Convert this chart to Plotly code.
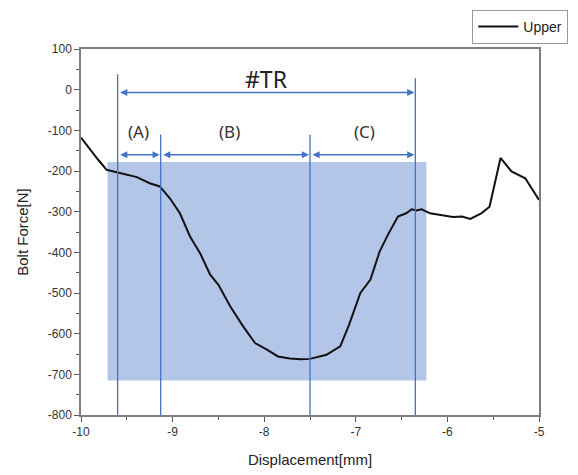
import plotly.graph_objects as go

# Bolt force measured against displacement (upper bolt)
displacement = [-10.0, -9.90, -9.81, -9.72, -9.60, -9.39, -9.25, -9.14, -9.03, -8.92,
                -8.81, -8.70, -8.59, -8.50, -8.37, -8.23, -8.10, -7.97, -7.85, -7.72,
                -7.60, -7.50, -7.32, -7.17, -7.08, -6.95, -6.84, -6.74, -6.65, -6.54,
                -6.45, -6.39, -6.34, -6.28, -6.19, -6.05, -5.94, -5.84, -5.75, -5.63,
                -5.54, -5.42, -5.30, -5.15, -5.00]
bolt_force = [-118, -148, -173, -197, -204, -215, -230, -238, -267, -304,
              -361, -402, -455, -480, -533, -582, -623, -639, -656, -661,
              -663, -662, -652, -631, -582, -500, -467, -398, -357, -312,
              -304, -294, -297, -294, -304, -308, -313, -312, -318, -304,
              -288, -168, -201, -218, -271]

# Axis tick values and their labels (plain hyphen for negatives)
x_ticks = [-10, -9, -8, -7, -6, -5]
x_tick_text = ["-10", "-9", "-8", "-7", "-6", "-5"]
y_ticks = [100, 0, -100, -200, -300, -400, -500, -600, -700, -800]
y_tick_text = ["100", "0", "-100", "-200", "-300", "-400", "-500", "-600", "-700", "-800"]

# Region boundaries (mm) and labels
bounds = [-9.60, -9.13, -7.50, -6.35]
region_labels = ["(A)", "(B)", "(C)"]
total_label = "#TR"
band_x = [-9.71, -6.23]
band_y = [-715, -178]

BLUE = "#4472C4"
FONT = "Liberation Sans, Arial, sans-serif"

fig = go.Figure()
fig.add_trace(go.Scatter(
    x=displacement, y=bolt_force, mode="lines", name="Upper",
    line=dict(color="#111111", width=2),
))

shapes = [dict(type="rect", xref="x", yref="y", layer="below",
               x0=band_x[0], x1=band_x[1], y0=band_y[0], y1=band_y[1],
               fillcolor="#B4C6E7", line=dict(width=0))]
line_tops = [38, -110, -110, 28]
for bx, top in zip(bounds, line_tops):
    shapes.append(dict(type="line", xref="x", yref="y", x0=bx, x1=bx,
                       y0=-800, y1=top, line=dict(color=BLUE, width=1.3)))

annotations = []

def double_arrow(x0, x1, y):
    annotations.append(dict(
        x=x1, y=y, ax=x0, ay=y, xref="x", yref="y", axref="x", ayref="y",
        text="", showarrow=True, arrowhead=2, startarrowhead=2,
        arrowside="end+start", arrowsize=1.1, startarrowsize=1.1,
        arrowwidth=1.3, arrowcolor=BLUE, standoff=1, startstandoff=1,
    ))

double_arrow(bounds[0], bounds[3], -7)
for i in range(3):
    double_arrow(bounds[i], bounds[i + 1], -160)

annotations.append(dict(x=-7.98, y=26, xref="x", yref="y", text=total_label,
                        showarrow=False, font=dict(family="Noto Sans", size=23, color="#222222")))
label_x = [-9.37, -8.38, -6.91]
for lx, txt in zip(label_x, region_labels):
    annotations.append(dict(x=lx, y=-103, xref="x", yref="y", text=txt,
                            showarrow=False, font=dict(family="Noto Sans", size=17, color="#333333")))

axis_common = dict(
    showline=True, linecolor="#7f7f7f", linewidth=1.5, mirror=True,
    ticks="outside", ticklen=5, tickwidth=1, tickcolor="#555555",
    showgrid=False, zeroline=False,
    tickfont=dict(family=FONT, size=12, color="#333333"),
)

fig.update_layout(
    width=578, height=475,
    margin=dict(l=81, r=39, t=49, b=60, autoexpand=False),
    paper_bgcolor="white", plot_bgcolor="white",
    shapes=shapes, annotations=annotations,
    showlegend=True,
    legend=dict(x=1.064, y=1.107, xanchor="right", yanchor="top",
                bordercolor="#999999", borderwidth=1, bgcolor="white",
                font=dict(family=FONT, size=14, color="#222222"),
                itemwidth=40, tracegroupgap=0),
    xaxis=dict(range=[-10, -5], tickvals=x_ticks, ticktext=x_tick_text,
               minor=dict(dtick=0.5, ticks="outside", ticklen=3, tickcolor="#555555"),
               title=dict(text="Displacement[mm]", standoff=16,
                          font=dict(family=FONT, size=15, color="#222222")),
               **axis_common),
    yaxis=dict(range=[-800, 100], tickvals=y_ticks, ticktext=y_tick_text,
               minor=dict(dtick=50, ticks="outside", ticklen=3, tickcolor="#555555"),
               title=dict(text="Bolt Force[N]", standoff=16,
                          font=dict(family=FONT, size=15, color="#222222")),
               **axis_common),
)

fig.write_html("out.html")
